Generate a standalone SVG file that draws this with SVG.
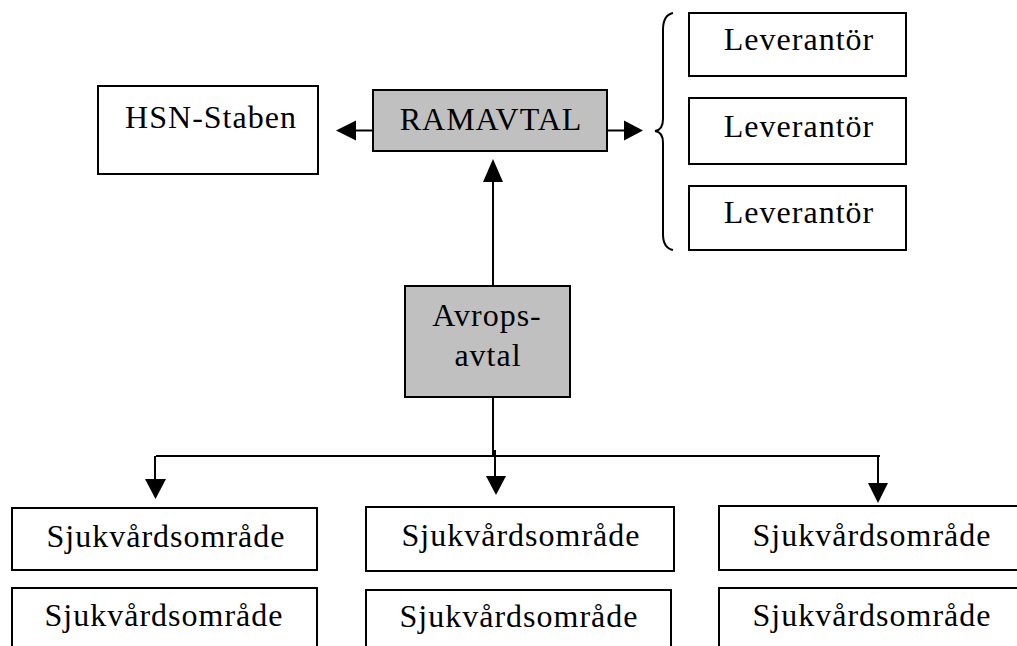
<svg xmlns="http://www.w3.org/2000/svg" width="1017" height="646" viewBox="0 0 1017 646">
<defs>
<style>
.box{fill:#fff;stroke:#000;stroke-width:2}
.gray{fill:#c0c0c0;stroke:#000;stroke-width:2}
text{font-family:"Liberation Serif","Times New Roman",serif;font-size:32px;fill:#000;text-anchor:middle;letter-spacing:1px}
.ln{fill:none;stroke:#000;stroke-width:2}
.ah{fill:#000;stroke:none}
</style>
</defs>
<rect width="1017" height="646" fill="#fff"/>
<g id="hsn"><rect class="box" x="98" y="86" width="220" height="88"/><text x="211" y="128">HSN-Staben</text></g>
<g id="ramavtal"><rect class="gray" x="373" y="90" width="234" height="61"/><text x="491" y="130">RAMAVTAL</text></g>
<g id="lev1"><rect class="box" x="689" y="13" width="217" height="63"/><text x="799" y="50">Leverantör</text></g>
<g id="lev2"><rect class="box" x="689" y="98" width="217" height="66"/><text x="799" y="137">Leverantör</text></g>
<g id="lev3"><rect class="box" x="689" y="186" width="217" height="64"/><text x="799" y="223">Leverantör</text></g>
<g id="avrops"><rect class="gray" x="405" y="286" width="165" height="111"/><text x="487" y="326">Avrops-</text><text x="488" y="366">avtal</text></g>
<g id="sjuk1"><rect class="box" x="12" y="508" width="305" height="62"/><text x="166" y="547">Sjukvårdsområde</text></g>
<g id="sjuk2"><rect class="box" x="366" y="507" width="308" height="64"/><text x="521" y="546">Sjukvårdsområde</text></g>
<g id="sjuk3"><rect class="box" x="719" y="506" width="310" height="64"/><text x="872" y="546">Sjukvårdsområde</text></g>
<g id="sjuk4"><rect class="box" x="12" y="588" width="305" height="70"/><text x="164" y="626">Sjukvårdsområde</text></g>
<g id="sjuk5"><rect class="box" x="366" y="590" width="305" height="70"/><text x="519" y="627">Sjukvårdsområde</text></g>
<g id="sjuk6"><rect class="box" x="719" y="588" width="310" height="70"/><text x="872" y="626">Sjukvårdsområde</text></g>
<g id="connectors">
<path class="ln" d="M373 130.5 H352"/><polygon class="ah" points="336,130.5 356,120.5 356,140.5"/>
<path class="ln" d="M607 130.5 H628"/><polygon class="ah" points="643,130.5 624,120.5 624,140.5"/>
<path class="ln" d="M493 286 V178"/><polygon class="ah" points="493,159 483,182 503,182"/>
<path class="ln" d="M493 397 V456 M156 456 H880"/>
<path class="ln" d="M155 456 V482"/><polygon class="ah" points="155.5,499 145,479 166,479"/>
<path class="ln" d="M495 450 V478"/><polygon class="ah" points="496,495 486,476 506,476"/>
<path class="ln" d="M878 456 V486"/><polygon class="ah" points="878,503 868,483 888,483"/>
<path class="ln" d="M673 13 Q663 15 663 30 V119 Q663 130 655 131 Q663 132 663 143 V234 Q663 248 673 250"/>
</g>
</svg>
